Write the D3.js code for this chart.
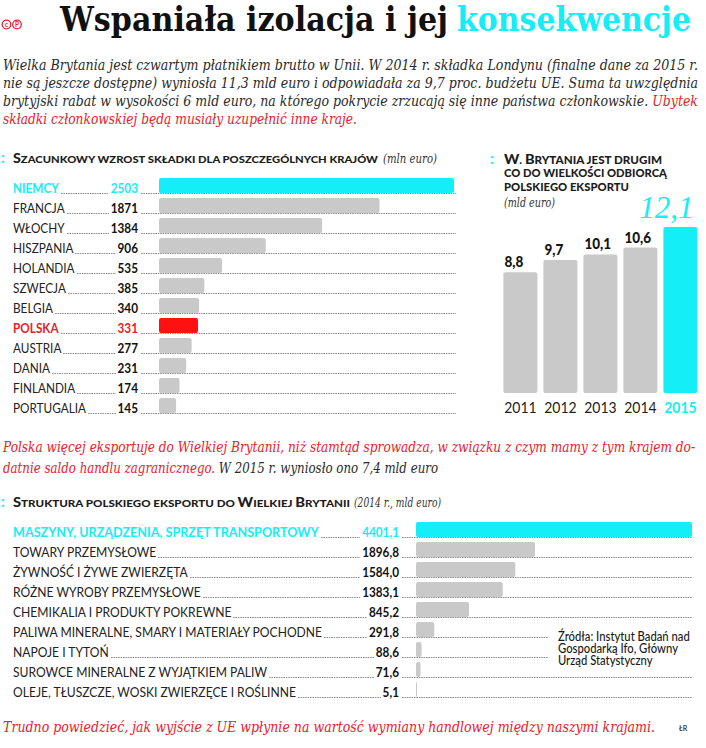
<!DOCTYPE html>
<html><head><meta charset="utf-8">
<script src="https://cdn.jsdelivr.net/npm/d3@7"></script>
<style>
html,body{margin:0;padding:0;background:#fff;}
svg{display:block;}
</style></head>
<body>
<svg id="chart" width="706" height="748"></svg>
<script>
// ---------- DATA ----------
const countries = ["NIEMCY","FRANCJA","WŁOCHY","HISZPANIA","HOLANDIA","SZWECJA","BELGIA","POLSKA","AUSTRIA","DANIA","FINLANDIA","PORTUGALIA"];
const increases = [2503,1871,1384,906,535,385,340,331,277,231,174,145];
const years = ["2011","2012","2013","2014","2015"];
const exportsUK = [8.8,9.7,10.1,10.6,12.1];
const categories = ["MASZYNY, URZĄDZENIA, SPRZĘT TRANSPORTOWY","TOWARY PRZEMYSŁOWE","ŻYWNOŚĆ I ŻYWE ZWIERZĘTA","RÓŻNE WYROBY PRZEMYSŁOWE","CHEMIKALIA I PRODUKTY POKREWNE","PALIWA MINERALNE, SMARY I MATERIAŁY POCHODNE","NAPOJE I TYTOŃ","SUROWCE MINERALNE Z WYJĄTKIEM PALIW","OLEJE, TŁUSZCZE, WOSKI ZWIERZĘCE I ROŚLINNE"];
const exportValues = [4401.1,1896.8,1584.0,1383.1,845.2,291.8,88.6,71.6,5.1];
const highlightCountry = "NIEMCY", polandCountry = "POLSKA", highlightYear = "2015";
const sourceLines = ["Źródła: Instytut Badań nad","Gospodarką Ifo, Główny","Urząd Statystyczny"];

// ---------- STYLE ----------
const CYAN = "#14eef6", RED = "#e8202a", BARRED = "#ff1111", GRAY = "#c9c9c9", DARK = "#1c1c1c";
const SERIF = "'DejaVu Serif', serif", SANS = "Lato, 'Noto Sans', sans-serif";

const svg = d3.select("#chart");

function fit(x, y, str, width, o = {}) {
  const t = svg.append("text").attr("x", x).attr("y", y).text(str)
    .style("font-family", o.family || SERIF)
    .style("font-size", (o.size || 14) + "px")
    .style("font-style", o.italic ? "italic" : "normal")
    .style("font-weight", o.weight || "normal")
    .attr("fill", o.fill || DARK);
  if (o.anchor) t.attr("text-anchor", o.anchor);
  if (width) t.attr("textLength", width).attr("lengthAdjust", "spacingAndGlyphs");
  return t;
}
function fitParts(x, y, parts, width, o = {}) {
  const t = svg.append("text").attr("x", x).attr("y", y)
    .style("font-family", o.family || SERIF)
    .style("font-size", (o.size || 14) + "px")
    .style("font-style", o.italic ? "italic" : "normal")
    .style("font-weight", o.weight || "normal");
  parts.forEach(([s, c]) => t.append("tspan").text(s).attr("fill", c));
  t.attr("textLength", width).attr("lengthAdjust", "spacingAndGlyphs");
  return t;
}
function condense(t, f) {
  const L = t.node().getComputedTextLength();
  t.attr("textLength", L * f).attr("lengthAdjust", "spacingAndGlyphs");
  return L * f;
}
function smallCaps(x, y, str, width, big = 12.5, small = 9.8) {
  const t = svg.append("text").attr("x", x).attr("y", y)
    .style("font-family", SANS).style("font-weight", "900").attr("fill", DARK);
  for (const ch of str) {
    const isUp = ch !== ch.toLowerCase();
    t.append("tspan").text(ch.toUpperCase()).style("font-size", (isUp ? big : small) + "px");
  }
  if (width) t.attr("textLength", width).attr("lengthAdjust", "spacingAndGlyphs");
  return t;
}
function bullet(x, y) {
  svg.append("text").attr("x", x).attr("y", y).text(":")
    .style("font-family", SANS).style("font-weight", "bold").style("font-size", "15px").attr("fill", CYAN);
}
// dotted leaders
const leaderSegs = [];
function dots(a, b, y) { if (b > a) leaderSegs.push({a: Math.round(a), b: Math.round(b), y: Math.round(y) + 0.5}); }
function drawDots() {
  svg.append("g").attr("class", "leaders").selectAll("path").data(leaderSegs).join("path")
    .attr("d", d => `M${d.a},${d.y}H${d.b}`)
    .attr("fill", "none").attr("stroke", "#8f8f8f").attr("stroke-width", 1).attr("stroke-dasharray", "1.6 0.8");
}

// ---------- TITLE ----------
const logo = svg.append("g").attr("transform", "translate(0,24.5)");
[[6.5, "c"], [17, "P"]].forEach(([cx, l]) => {
  logo.append("circle").attr("cx", cx).attr("cy", 0).attr("r", 4.3).attr("fill", "none").attr("stroke", RED).attr("stroke-width", 1.3);
  logo.append("text").attr("x", cx).attr("y", 2.3).attr("text-anchor", "middle").text(l)
    .style("font-family", SANS).style("font-weight", "bold").style("font-size", "6.5px").attr("fill", RED);
});
fit(60, 31, "Wspaniała izolacja i jej", 388, {size: 34, weight: "bold", fill: "#111"});
fit(457, 31, "konsekwencje", 234, {size: 34, weight: "bold", fill: CYAN});

// ---------- INTRO ----------
const pOpt = {size: 14, italic: true};
fitParts(3, 70, [["Wielka Brytania jest czwartym płatnikiem brutto w Unii. W 2014 r. składka Londynu (finalne dane za 2015 r.", "#2a2a2a"]], 695, pOpt);
fitParts(3, 88, [["nie są jeszcze dostępne) wyniosła 11,3 mld euro i odpowiadała za 9,7 proc. budżetu UE. Suma ta uwzględnia", "#2a2a2a"]], 695, pOpt);
fitParts(3, 106, [["brytyjski rabat w wysokości 6 mld euro, na którego pokrycie zrzucają się inne państwa członkowskie. ", "#2a2a2a"], ["Ubytek", RED]], 695, pOpt);
fitParts(3, 124, [["składki członkowskiej będą musiały uzupełnić inne kraje.", RED]], 354, pOpt);

// ---------- CHART 1: country increases ----------
bullet(1, 163);
smallCaps(13, 163, "Szacunkowy wzrost składki dla poszczególnych krajów", 365);
fit(383, 163, "(mln euro)", 54, {size: 13, italic: true, fill: "#333"});

const y1 = d3.scaleBand().domain(countries).range([175.5, 415.5]).paddingInner(0.25).paddingOuter(0.125);
const x1 = d3.scaleLinear().domain([0, d3.max(increases)]).range([159, 454]);
const BH = 15;

countries.forEach((c, i) => {
  const base = y1(c) + BH;
  const col = c === highlightCountry ? CYAN : c === polandCountry ? RED : DARK;
  const special = col !== DARK;
  const lab = fit(13, base, c, null, {family: SANS, size: 14, weight: special ? "bold" : "normal", fill: col === DARK ? "#222" : col});
  const lw = condense(lab, 0.84);
  const val = fit(138, base, d3.format("d")(increases[i]), null, {family: SANS, size: 14, weight: "bold", fill: col === DARK ? "#111" : col, anchor: "end"});
  const vw = condense(val, 0.84);
  dots(13 + lw + 2, 138 - vw - 2, base);
  dots(141, 456, base);
});
svg.append("g").selectAll("rect").data(countries).join("rect")
  .attr("x", x1(0)).attr("y", d => y1(d))
  .attr("width", (d, i) => x1(increases[i]) - x1(0)).attr("height", BH)
  .attr("rx", 2)
  .attr("fill", d => d === highlightCountry ? CYAN : d === polandCountry ? BARRED : GRAY);

// ---------- CHART 2: exports to UK ----------
bullet(490, 164);
smallCaps(504, 164, "W. Brytania jest drugim", 158, 13, 10.4);
smallCaps(504, 177, "co do wielkości odbiorcą", 163, 10.4, 10.4);
smallCaps(504, 191, "polskiego eksportu", 125, 10.4, 10.4);
fit(504, 207, "(mld euro)", 51, {size: 13, italic: true, fill: "#333"});

const x2 = d3.scaleBand().domain(years).range([500.4, 700.4]).paddingInner(0.15).paddingOuter(0.075);
const y2 = d3.scaleLinear().domain([0, 12.1]).range([393, 227]);
svg.append("g").selectAll("rect").data(years).join("rect")
  .attr("x", d => x2(d)).attr("width", x2.bandwidth())
  .attr("y", (d, i) => y2(exportsUK[i])).attr("height", (d, i) => y2(0) - y2(exportsUK[i]))
  .attr("rx", 2)
  .attr("fill", d => d === highlightYear ? CYAN : GRAY);
const fmt1 = v => d3.format(".1f")(v).replace(".", ",");
years.forEach((yr, i) => {
  const cx = x2(yr) + x2.bandwidth() / 2;
  if (yr === highlightYear) {
    fit(x2(yr) + x2.bandwidth() - 4, y2(exportsUK[i]) - 9, fmt1(exportsUK[i]), null, {family: "'Liberation Serif', serif", size: 31, italic: true, fill: CYAN, anchor: "end"});
  } else {
    const t = fit(x2(yr) + 1, y2(exportsUK[i]) - 5, fmt1(exportsUK[i]), null, {family: SANS, size: 15, weight: "900", fill: "#151515"});
    condense(t, 0.9);
  }
  const yl = fit(cx, 413, yr, null, {family: SANS, size: 15, weight: yr === highlightYear ? "bold" : "normal", fill: yr === highlightYear ? CYAN : "#222", anchor: "middle"});
  condense(yl, 0.93);
});

// ---------- MIDDLE TEXT ----------
fitParts(3, 452, [["Polska więcej eksportuje do Wielkiej Brytanii, niż stamtąd sprowadza, w związku z czym mamy z tym krajem do-", RED]], 692, pOpt);
fitParts(3, 473, [["datnie saldo handlu zagranicznego.", RED], [" W 2015 r. wyniosło ono 7,4 mld euro", "#2a2a2a"]], 435, pOpt);

// ---------- CHART 3: export structure ----------
bullet(1, 507);
smallCaps(13, 507, "Struktura polskiego eksportu do Wielkiej Brytanii", 337);
fit(354, 507, "(2014 r., mld euro)", 87, {size: 13, italic: true, fill: "#333"});

const y3 = d3.scaleBand().domain(categories).range([519.5, 699.5]).paddingInner(0.25).paddingOuter(0.125);
const x3 = d3.scaleLinear().domain([0, d3.max(exportValues)]).range([416, 692]);
categories.forEach((c, i) => {
  const base = y3(c) + BH;
  const hl = i === 0;
  const lab = fit(13, base, c, null, {family: SANS, size: 14, weight: hl ? "bold" : "normal", fill: hl ? CYAN : "#222"});
  const lw = condense(lab, hl ? 0.9 : 0.865);
  const val = fit(399, base, fmt1(exportValues[i]), null, {family: SANS, size: 14, weight: "bold", fill: hl ? CYAN : "#111", anchor: "end"});
  const vw = condense(val, 0.84);
  dots(13 + lw + 2, 399 - vw - 2, base);
  const shortRow = c.startsWith("PALIWA") || c.startsWith("NAPOJE");
  dots(402, shortRow ? 548 : 692, base);
});
svg.append("g").selectAll("rect").data(categories).join("rect")
  .attr("x", x3(0)).attr("y", d => y3(d))
  .attr("width", (d, i) => Math.max(1, x3(exportValues[i]) - x3(0))).attr("height", BH)
  .attr("rx", 2)
  .attr("fill", (d, i) => i === 0 ? CYAN : GRAY);

drawDots();

sourceLines.forEach((s, i) => {
  const t = fit(558, 641 + i * 12, s, null, {family: SANS, size: 12.5, weight: "500", fill: "#1a1a1a"});
  condense(t, 0.9);
});

// ---------- FOOTER ----------
fitParts(3, 732, [["Trudno powiedzieć, jak wyjście z UE wpłynie na wartość wymiany handlowej między naszymi krajami.", RED]], 652, {...pOpt, size: 15});
fit(679, 731, "ŁR", null, {family: SANS, size: 7, weight: "bold", fill: "#444"});
</script>
</body></html>
